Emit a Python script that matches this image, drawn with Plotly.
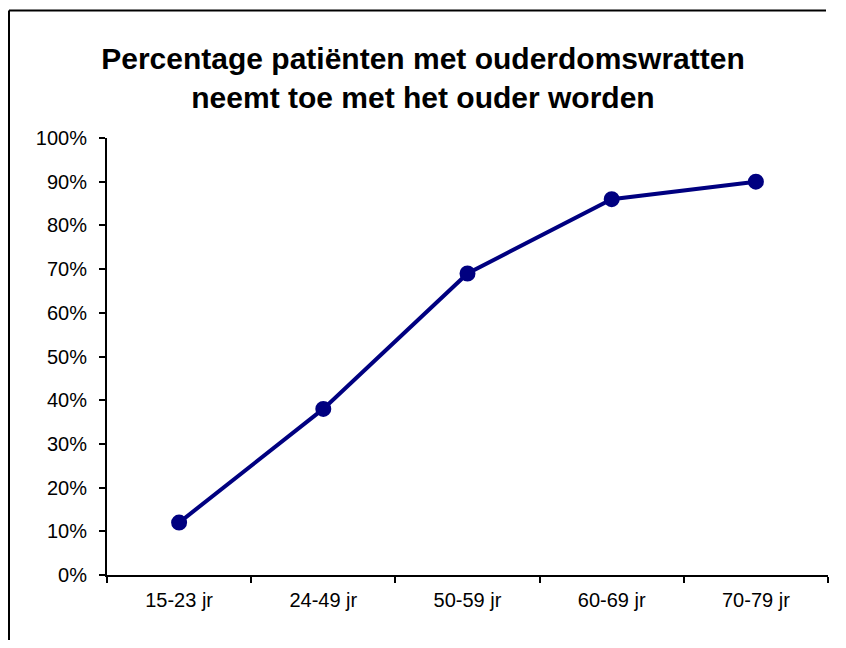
import plotly.graph_objects as go

categories = ["15-23 jr", "24-49 jr", "50-59 jr", "60-69 jr", "70-79 jr"]
percentages = [0.12, 0.38, 0.69, 0.86, 0.90]
title_lines = ["Percentage patiënten met ouderdomswratten", "neemt toe met het ouder worden"]

# page body has an 8px margin: figure pixel = screen pixel - 8
W, H = 830, 632
L, R, T, B = 99, 10, 130, 65
pw, ph = W - L - R, H - T - B

def px_x(px):
    return (px - L) / pw

def px_y(py):
    return (H - B - py) / ph

fig = go.Figure()
fig.add_trace(go.Scatter(
    x=categories, y=percentages, mode="lines+markers",
    line=dict(color="#000080", width=4),
    marker=dict(symbol="circle", size=14, color="#000080",
                line=dict(color="#000080", width=2)),
    showlegend=False, hoverinfo="skip",
))

font = "Liberation Sans, Arial, sans-serif"
fig.update_layout(
    width=W, height=H,
    margin=dict(l=L, r=R, t=T, b=B),
    paper_bgcolor="white", plot_bgcolor="white",
    title=dict(text="<b>" + "<br>".join(title_lines) + "</b>",
               x=0.5, xanchor="center", xref="container",
               y=1 - 61 / H, yanchor="top", yref="container",
               font=dict(family=font, size=30, color="black")),
    font=dict(family=font, size=20, color="black"),
    xaxis=dict(type="category", range=[-0.5, 4.5], tickson="boundaries",
               ticks="outside", ticklen=6, tickwidth=1.5, tickcolor="black",
               showline=True, linecolor="black", linewidth=2,
               showgrid=False, zeroline=False, ticklabelstandoff=6,
               tickfont=dict(family=font, size=20, color="black")),
    yaxis=dict(range=[0, 1], dtick=0.1, tick0=0, tickformat=".0%",
               ticks="outside", ticklen=6, tickwidth=1.5, tickcolor="black",
               showline=True, linecolor="black", linewidth=2,
               showgrid=False, zeroline=False, ticklabelstandoff=8,
               tickfont=dict(family=font, size=20, color="black")),
)

bx, by = px_x(1), px_y(2.5)
fig.add_shape(type="line", xref="paper", yref="paper", x0=bx, x1=bx, y0=px_y(H), y1=by,
              line=dict(color="black", width=2))
fig.add_shape(type="line", xref="paper", yref="paper", x0=bx, x1=px_x(W - 12), y0=by, y1=by,
              line=dict(color="black", width=2))

fig.write_html("out.html")
